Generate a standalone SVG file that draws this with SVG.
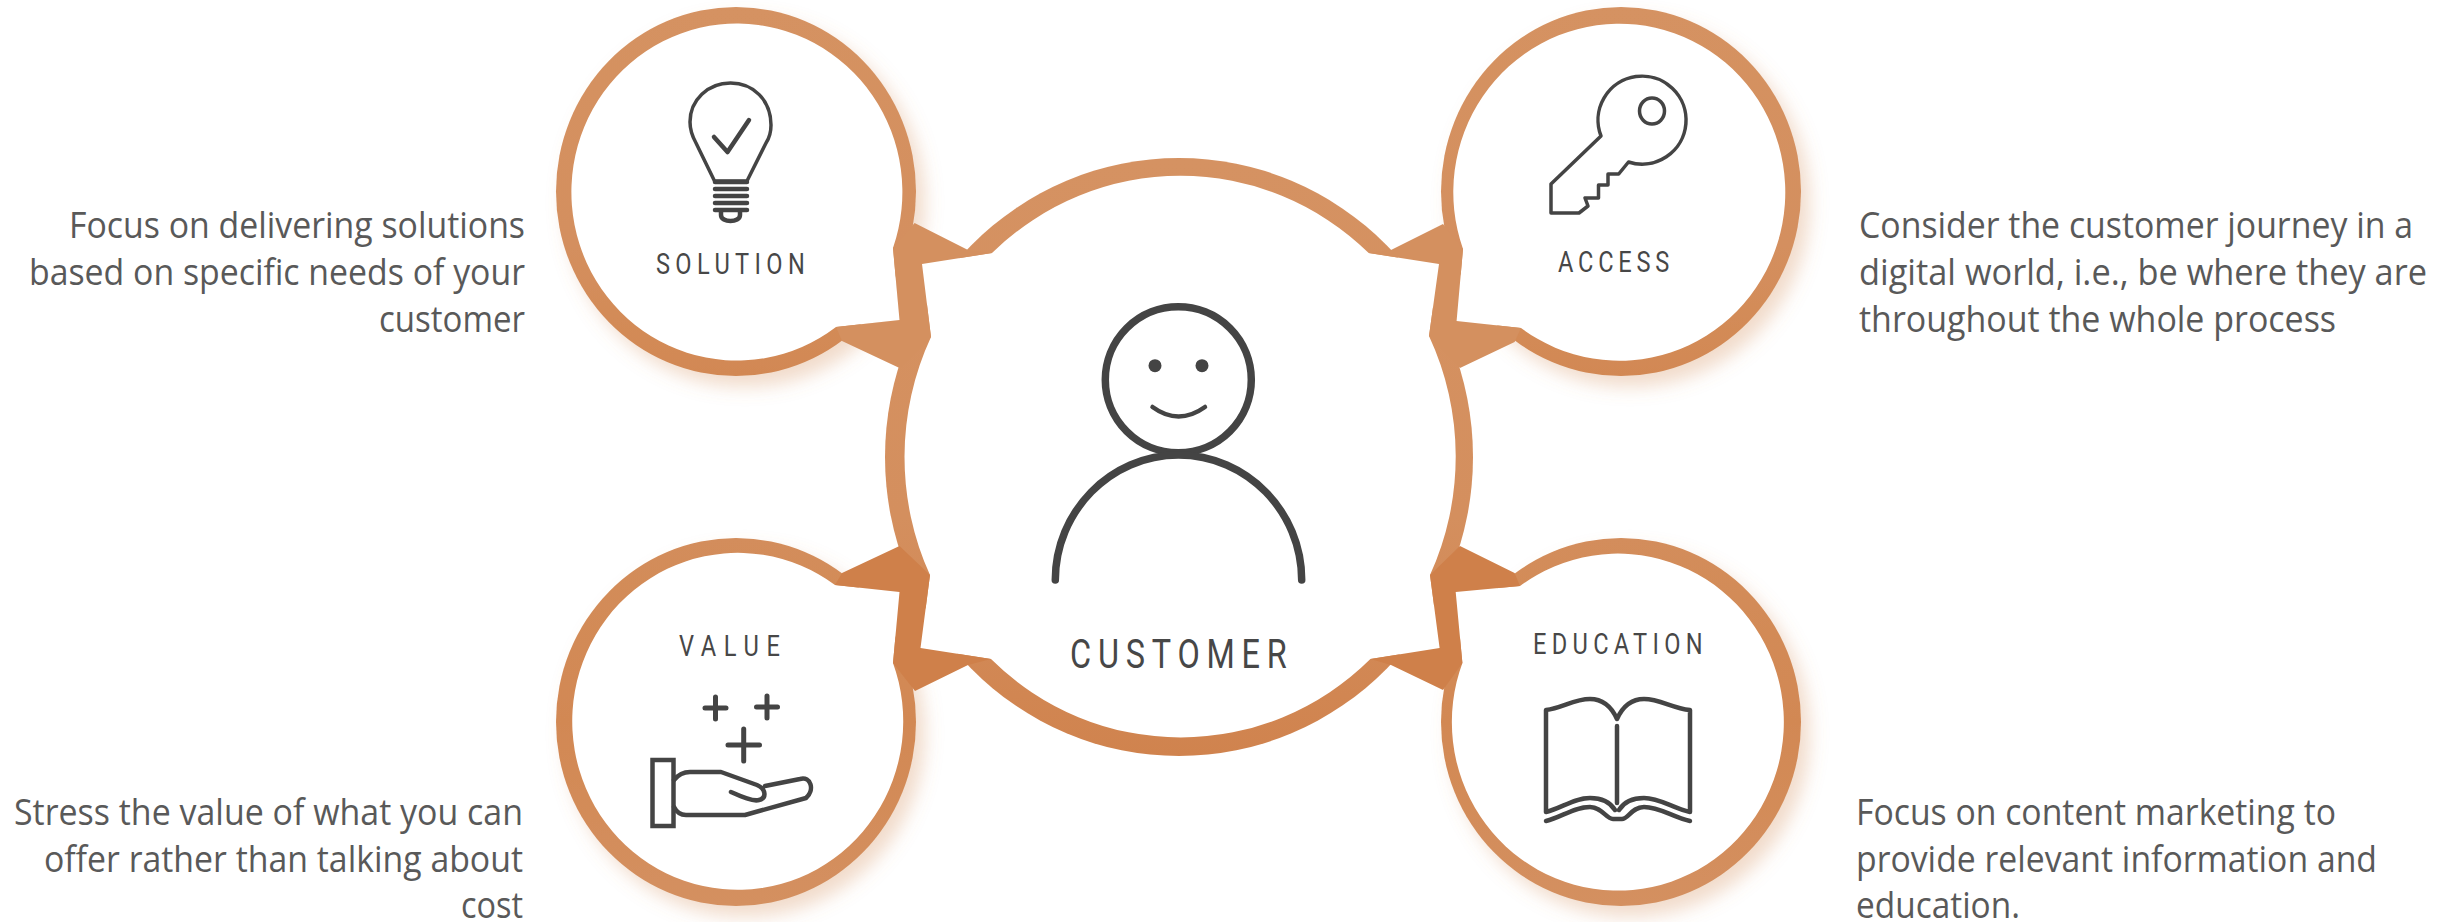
<svg xmlns="http://www.w3.org/2000/svg" width="2448" height="922" viewBox="0 0 2448 922">
<style>
.body{font-family:"Open Sans","Lato",sans-serif;font-size:36px;fill:#595959}
.lab{font-family:"Roboto","Liberation Sans",sans-serif;font-weight:400;font-size:29.5px;fill:#474747}
.big{font-size:40.5px}
.ico{fill:none;stroke:#444;stroke-linecap:round;stroke-linejoin:round}
.w3{stroke-width:3.5px}.w4{stroke-width:4.5px}.w5{stroke-width:5px}.w7{stroke-width:7.5px}
.rim{filter:url(#sh)}
.in{fill:#fff}
</style>
<defs>
<filter id="sh" x="-20%" y="-20%" width="150%" height="150%"><feDropShadow dx="9" dy="11" stdDeviation="9" flood-color="#D4905F" flood-opacity=".32"/></filter>
<linearGradient id="gt" x1="0" y1="0" x2="0" y2="1"><stop offset="0" stop-color="#D59262"/><stop offset=".65" stop-color="#D48F5E"/><stop offset="1" stop-color="#D28853"/></linearGradient>
<linearGradient id="gb" x1="0" y1="0" x2="0" y2="1"><stop offset="0" stop-color="#D38D5B"/><stop offset=".5" stop-color="#D28853"/><stop offset="1" stop-color="#D49060"/></linearGradient>
<linearGradient id="gc" x1="0" y1="0" x2="0" y2="1"><stop offset="0" stop-color="#D59262"/><stop offset=".6" stop-color="#D48F5E"/><stop offset="1" stop-color="#D0834E"/></linearGradient>
</defs>
<g id="node-solution">
<ellipse class="rim" cx="736" cy="191.5" rx="180" ry="184.5" fill="url(#gt)"/>
<path class="in" d="M893,248A165.5,168.5 0 1 0 836,327L899.5,320Z"/>
<g class="ico w3"><path d="M714.5,181L696,143C691,134 690,129 690,122C690,100 708,83 730.5,83C753,83 771,100 771,125C771,132 770,137 766,143L747,181Z"/><path class="w4" d="M714,137L727.5,152L749,120"/><path class="w4" d="M715,182H747M715,189H747M715,196H747M715,203H747M715,210H747"/><path class="w4" d="M721,211V215C721,223 740,223 740,215V211"/></g>
<text class="lab" transform="translate(656 274) scale(.8 1)" textLength="186">SOLUTION</text>
</g>
<g id="node-access">
<ellipse class="rim" cx="1621" cy="191.5" rx="180" ry="184.5" fill="url(#gt)"/>
<path class="in" d="M1463,249A166,168.5 0 1 1 1521,328L1456.6,321Z"/>
<g class="ico w3"><path d="M1601,136L1551,184V213H1579L1588,206L1585,198H1598.5V185H1608V174H1618.7L1628.5,162A44,44 0 1 0 1601,136Z"/><ellipse cx="1652" cy="111" rx="12.5" ry="13"/></g>
<text class="lab" transform="translate(1558 271.5) scale(.8 1)" textLength="139">ACCESS</text>
</g>
<g id="node-value">
<ellipse class="rim" cx="736" cy="722" rx="180" ry="184" fill="url(#gb)"/>
<path class="in" d="M835,585A165.5,168.5 0 1 0 893,663L899.5,592Z"/>
<g class="ico w4"><rect x="652.5" y="760" width="21" height="66" style="stroke-linejoin:miter"/><path d="M674,780C678,775 683,772 690,772H721L757,785C766,789 767,798 759,800C753,802 740,796 731,792M765,786L800,779C811,776 815,790 806,798L745,815H686C680,815 676,811 674,807"/><path class="w5" d="M705,708H726M715.5,697V719M756.5,707H777.5M767,696V718"/><path class="w5" d="M728,745H759.5M743.7,729V761"/></g>
<text class="lab" transform="translate(679 656) scale(.8 1)" textLength="126">VALUE</text>
</g>
<g id="node-education">
<ellipse class="rim" cx="1621" cy="722" rx="180" ry="184" fill="url(#gb)"/>
<path class="in" d="M1520,586A166,168.5 0 1 1 1462.4,663L1455.7,592Z"/>
<g class="ico w4"><path d="M1546,812V710C1562,708 1574,699 1590,699C1604,699 1612,708 1617,719C1622,708 1630,699 1644,699C1660,699 1672,708 1690,710V812C1672,808 1660,798 1644,798C1632,798 1624,802 1619,810M1546,812C1562,808 1574,798 1590,798C1602,798 1610,802 1615,810"/><path d="M1617,726V803"/><path d="M1546,821C1562,817 1574,807 1590,807C1602,807 1606,819 1613,819H1622C1628,819 1632,807 1644,807C1660,807 1672,817 1690,821"/></g>
<text class="lab" transform="translate(1533 654) scale(.8 1)" textLength="212">EDUCATION</text>
</g>
<g id="node-customer">
<ellipse cx="1179" cy="457" rx="294" ry="299" fill="url(#gc)"/>
<path class="in" d="M992,253A273,279.5 0 0 1 1368.7,253L1439,264L1429,336A273,279.5 0 0 1 1430,575L1439.6,648L1370.4,659A273,279.5 0 0 1 991,659L920.5,648L930,575A273,279.5 0 0 1 931,337L922,264Z"/>
<g class="ico w7"><circle cx="1178.3" cy="379.7" r="73"/><path d="M1055.3,580C1055.3,512 1110,455 1178.5,455C1247,455 1301.7,512 1301.7,580"/><path class="w4" d="M1152.5,407Q1178.5,426 1205,407"/></g>
<circle cx="1155" cy="365.7" r="6.5" fill="#444"/><circle cx="1202" cy="365.7" r="6.5" fill="#444"/>
<text class="lab big" transform="translate(1070 668) scale(.8 1)" textLength="271">CUSTOMER</text>
</g>
<g id="connectors">
<polygon fill="#D4905F" points="914.6,223 968,250 992,253 922,264 931,337 899.5,368 842,341 836,327 899.5,320 893,248"/>
<polygon fill="#D4905F" points="1443,224 1391,250 1368.7,253 1439,264 1429,336 1460,368 1514.6,342 1521,328 1456.6,321 1463,249"/>
<polygon fill="#CF804A" points="899.5,546 842,573 835,585 899.5,592 893,663 915,691 968,665 991,659 920.5,648 930,575"/>
<polygon fill="#CF804A" points="1460,546 1514.6,573 1520,586 1455.7,592 1462.4,663 1443,690 1391,665 1370.4,659 1439.6,648 1430,575"/>
</g>
<g id="captions">
<text class="body" x="69" y="238" textLength="456" lengthAdjust="spacingAndGlyphs">Focus on delivering solutions</text>
<text class="body" x="29" y="285" textLength="496" lengthAdjust="spacingAndGlyphs">based on specific needs of your</text>
<text class="body" x="379" y="332" textLength="146" lengthAdjust="spacingAndGlyphs">customer</text>
<text class="body" x="1859" y="238" textLength="554" lengthAdjust="spacingAndGlyphs">Consider the customer journey in a</text>
<text class="body" x="1859" y="285" textLength="568" lengthAdjust="spacingAndGlyphs">digital world, i.e., be where they are</text>
<text class="body" x="1859" y="332" textLength="477" lengthAdjust="spacingAndGlyphs">throughout the whole process</text>
<text class="body" x="14" y="825" textLength="509" lengthAdjust="spacingAndGlyphs">Stress the value of what you can</text>
<text class="body" x="44" y="872" textLength="479" lengthAdjust="spacingAndGlyphs">offer rather than talking about</text>
<text class="body" x="461" y="918" textLength="62" lengthAdjust="spacingAndGlyphs">cost</text>
<text class="body" x="1856" y="825" textLength="480" lengthAdjust="spacingAndGlyphs">Focus on content marketing to</text>
<text class="body" x="1856" y="872" textLength="521" lengthAdjust="spacingAndGlyphs">provide relevant information and</text>
<text class="body" x="1856" y="918" textLength="164" lengthAdjust="spacingAndGlyphs">education.</text>
</g>
</svg>
